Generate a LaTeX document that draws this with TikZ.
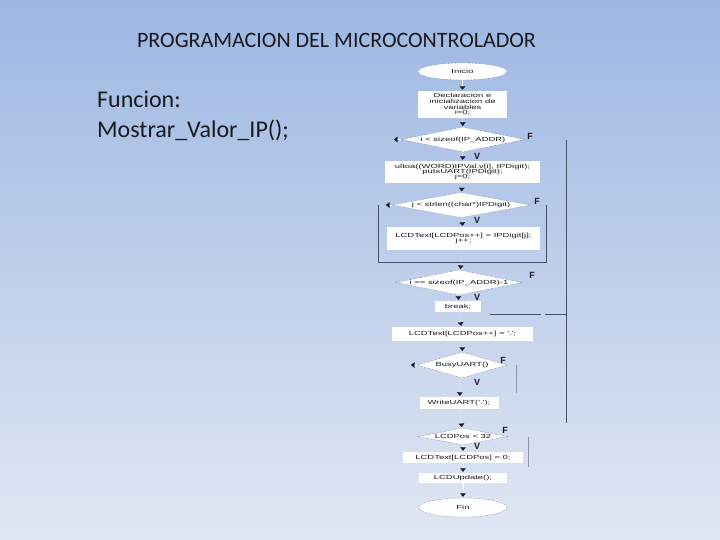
\documentclass[tikz,border=0pt]{standalone}
\usepackage{fontspec}
\setmainfont{Carlito}
\newfontfamily\flowfont[FakeStretch=1.6]{Liberation Sans}
\newfontfamily\lblfont{Liberation Sans}
\usetikzlibrary{shapes.geometric,arrows.meta,calc}
\definecolor{bgtop}{RGB}{157,183,227}
\definecolor{bgbot}{RGB}{225,231,243}
\definecolor{txt}{RGB}{25,25,30}
\definecolor{edge}{RGB}{85,90,110}
\definecolor{tipc}{RGB}{25,25,40}
\definecolor{framec}{RGB}{70,80,105}
\tikzset{
  ftext/.style={font=\flowfont\fontsize{5.9}{6.2}\selectfont, text=txt, align=center},
  term/.style={ftext, ellipse, fill=white, draw=edge, densely dotted, line width=0.4pt, inner sep=0pt},
  proc/.style={ftext, rectangle, fill=white, inner sep=0pt},
  deci/.style={ftext, diamond, aspect=5, fill=white, draw=edge, densely dotted, line width=0.4pt, inner sep=0pt},
  conn/.style={draw=white, line width=0.1pt, shorten >=1pt, -{Triangle[color=tipc, length=3.5pt, width=5.5pt]}},
  frame/.style={draw=framec, line width=0.7pt},
  tf/.style={font=\lblfont\bfseries\fontsize{9}{9}\selectfont, text=tipc, inner sep=0pt},
}
\begin{document}
\begin{tikzpicture}[x=1pt, y=-1pt]
\useasboundingbox (0,0) rectangle (720,540);
\shade[top color=bgtop, bottom color=bgbot] (0,0) rectangle (720,540);

\node[anchor=base, font=\fontsize{22}{24}\selectfont, text=txt, inner sep=0pt] (title) at (336.5,48) {PROGRAMACION DEL MICROCONTROLADOR};
\node[anchor=base west, font=\fontsize{24}{26}\selectfont, text=txt, inner sep=0pt] (fn1) at (97,108) {Funcion:};
\node[anchor=base west, font=\fontsize{24}{26}\selectfont, text=txt, inner sep=0pt] (fn2) at (97,138) {Mostrar\_Valor\_IP();};

% flowchart nodes
\node[term, minimum width=89, minimum height=17] (ini) at (462.5,71.5) {Inicio};
\node[proc, minimum width=89, minimum height=27] (b1) at (462.5,104.5) {Declaracion e\\[-0.5pt]inicializacion de\\[-0.5pt]variables\\[-0.5pt]i=0;};
\node[deci, minimum width=123, minimum height=25] (d1) at (463,139.5) {i < sizeof(IP\_ADDR)};
\node[proc, minimum width=155, minimum height=22] (b2) at (462.5,172) {ultoa((WORD)IPVal.v[i], IPDigit);\\[-1.2pt]putsUART(IPDigit);\\[-1.2pt]j=0;};
\node[deci, minimum width=138, minimum height=24] (d2) at (461,205) {j < strlen((char*)IPDigit)};
\node[proc, minimum width=153, minimum height=23] (b3) at (463.5,238.5) {LCDText[LCDPos++] = IPDigit[j];\\[-1.2pt]j++;};
\node[deci, minimum width=125, minimum height=25] (d3) at (459,282.5) {i == sizeof(IP\_ADDR)-1};
\node[proc, minimum width=46, minimum height=11] (brk) at (458,306.5) {break;};
\node[proc, minimum width=141, minimum height=14] (b4) at (462.5,334) {LCDText[LCDPos++] = '.';};
\node[deci, minimum width=90, minimum height=26] (d4) at (462,365) {BusyUART()};
\node[proc, minimum width=79, minimum height=12] (b5) at (459,403) {WriteUART('.');};
\node[deci, minimum width=90, minimum height=17] (d5) at (463,436.5) {LCDPos < 32};
\node[proc, minimum width=120, minimum height=11] (b6) at (463,457.5) {LCDText[LCDPos] = 0;};
\node[proc, minimum width=88, minimum height=10] (b7) at (463,478) {LCDUpdate();};
\node[term, minimum width=88, minimum height=19] (fin) at (463,507.5) {Fin};

% downward connectors (only arrowheads visible)
\draw[conn] (ini) -- (b1);
\draw[conn] (b1) -- (d1);
\draw[conn] (d1) -- (b2);
\draw[conn] (b2) -- (d2);
\draw[conn] (d2) -- (b3);
\draw[conn] (b3) -- (d3);
\draw[conn] (d3) -- (brk);
\draw[conn] (brk) -- (b4);
\draw[conn] (b4) -- (d4);
\draw[conn] (d4) -- (b5);
\draw[conn] (b5) -- (d5);
\draw[conn] (d5) -- (b6);
\draw[conn] (b6) -- (b7);
\draw[conn] (b7) -- (fin);

% left arrows at diamonds
\coordinate (d1l) at (393,139.5);
\coordinate (d2l) at (385,205);
\coordinate (d4l) at (410,365);
\draw[conn] (d1.west) -- (d1l);
\draw[conn] (d2.west) -- (d2l);
\draw[conn] (d4.west) -- (d4l);

% frame lines
\coordinate (fa) at (378,205);
\coordinate (fb) at (378,262);
\coordinate (fc) at (546,262);
\coordinate (fd) at (546,205);
\draw[frame] (fa) -- (fb) -- (fc) -- (fd);
\coordinate (oa) at (566,140);
\coordinate (ob) at (566,423);
\draw[frame] (oa) -- (ob);
\coordinate (ha) at (490,314);
\coordinate (hb) at (541,314);
\coordinate (hc) at (545,314);
\draw[frame] (ha) -- (hb);
\draw[frame] (hc) -- (oa |- hc);
\coordinate (ba) at (516,365);
\coordinate (bb) at (516,393);
\draw[frame, draw=framec!60] (ba) -- (bb);
\coordinate (la) at (528,437);
\coordinate (lb) at (528,467);
\draw[frame, draw=framec!60] (la) -- (lb);

% labels
\node[tf] (f1) at (530,136) {F};
\node[tf] (f2) at (537,201) {F};
\node[tf] (f3) at (532,275) {F};
\node[tf] (f4) at (503,360) {F};
\node[tf] (f5) at (505,430) {F};
\node[tf] (v1) at (477,156) {V};
\node[tf] (v2) at (477,220) {V};
\node[tf] (v3) at (477,297) {V};
\node[tf] (v4) at (477,382) {V};
\node[tf] (v5) at (477,446) {V};
\end{tikzpicture}
\end{document}
